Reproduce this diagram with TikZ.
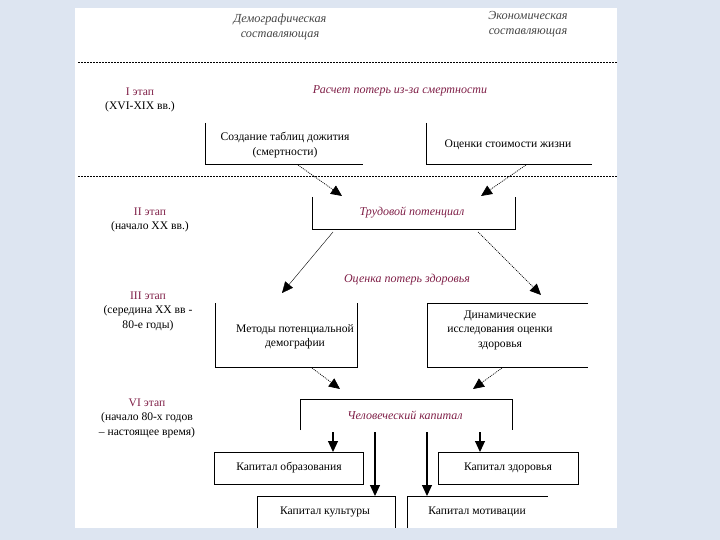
\documentclass[tikz,border=0pt]{standalone}
\usepackage{fontspec}
\setmainfont{Liberation Serif}
\usetikzlibrary{arrows.meta}
\definecolor{slide}{RGB}{221,229,241}
\definecolor{maroon}{RGB}{128,32,72}
\definecolor{headgray}{RGB}{70,70,70}

\begin{document}
\begin{tikzpicture}[x=1pt,y=-1pt,
    font=\fontsize{11.6}{14.5}\selectfont,
    tip/.style={-{Triangle[length=11pt,width=10pt]}},
    dotarrow/.style={tip,dash pattern=on 1pt off 1pt,line width=0.7pt},
    downarrow/.style={tip,line width=1.1pt},
    sepline/.style={dash pattern=on 2pt off 1pt,line width=0.8pt}]
    \fill[slide] (0,0) rectangle (720,540);
    \fill[white] (75,8) rectangle (617,528);
    \useasboundingbox (0,0) rectangle (720,540);
    \draw[sepline] (78,62) -- (617,62);
    \draw[sepline] (78,176) -- (617,176);
    \begin{scope}[every node/.style={align=center,inner sep=1pt}]
        \node[headgray,font=\fontsize{12.3}{14.5}\selectfont\itshape] (dem) at (280,27) {Демографическая\\составляющая};
        \node[headgray,font=\fontsize{12.3}{14.5}\selectfont\itshape] (eco) at (528,24) {Экономическая\\составляющая};
        \node (st1) at (140,100) {\textcolor{maroon}{I этап}\\(XVI-XIX вв.)};
        \node (st2) at (150,220) {\textcolor{maroon}{II этап}\\(начало XX вв.)};
        \node (st3) at (148,311) {\textcolor{maroon}{III этап}\\(середина XX вв -\\80-е годы)};
        \node (st4) at (147,418) {\textcolor{maroon}{VI этап}\\(начало 80-х годов\\– настоящее время)};
    \end{scope}
    \begin{scope}[every node/.style={maroon,font=\fontsize{12}{14.5}\selectfont\itshape,inner sep=1pt}]
        \node (loss) at (400,91) {Расчет потерь из-за смертности};
        \node (labour) at (412,213) {Трудовой потенциал};
        \node (hloss) at (407,280) {Оценка потерь здоровья};
        \node (human) at (405,415) {Человеческий капитал};
    \end{scope}
    \begin{scope}[every node/.style={align=center,inner sep=1pt}]
        \node (tables) at (285,145) {Создание таблиц дожития\\(смертности)};
        \node (cost) at (508,145) {Оценки стоимости жизни};
        \node (methods) at (295,337) {Методы потенциальной\\демографии};
        \node (dynamic) at (500,330) {Динамические\\исследования оценки\\здоровья};
        \node (edu) at (289,468) {Капитал образования};
        \node (hcap) at (508,468) {Капитал здоровья};
        \node (cult) at (325,512) {Капитал культуры};
        \node (motiv) at (477,512) {Капитал мотивации};
    \end{scope}
    % open frames of the blocks
    \draw (205,123) -- (205,164) -- (363,164);
    \draw (426,123) -- (426,164) -- (592,164);
    \draw (312,197) -- (312,229) -- (515,229) -- (515,197);
    \draw (215,303) -- (215,367) -- (357,367) -- (357,303);
    \draw (588,303) -- (427,303) -- (427,367) -- (588,367);
    \draw (300,430) -- (300,399) -- (512,399) -- (512,430);
    \draw (214,452) rectangle (363,484);
    \draw (438,452) rectangle (578,484);
    \draw (257,528) -- (257,496) -- (395,496) -- (395,528);
    \draw (407,528) -- (407,496) -- (548,496);
    % arrow ends
    \coordinate (tabOut) at (298,165);
    \coordinate (costOut) at (526,165);
    \coordinate (labInL) at (342,196);
    \coordinate (labInR) at (481,196);
    \coordinate (labOutL) at (333,232);
    \coordinate (labOutR) at (478,232);
    \coordinate (metIn) at (282,293);
    \coordinate (dynIn) at (541,295);
    \coordinate (metOut) at (312,368);
    \coordinate (dynOut) at (502,368);
    \coordinate (humInL) at (340,389);
    \coordinate (humInR) at (473,389);
    \coordinate (humA) at (333,432);
    \coordinate (humB) at (375,432);
    \coordinate (humC) at (427,432);
    \coordinate (humD) at (480,432);
    \coordinate (eduIn) at (333,452);
    \coordinate (cultIn) at (375,496);
    \coordinate (motIn) at (427,496);
    \coordinate (hcapIn) at (480,452);
    \draw[dotarrow] (tabOut) -- (labInL);
    \draw[dotarrow] (costOut) -- (labInR);
    \draw[tip,thin] (labOutL) -- (metIn);
    \draw[dotarrow] (labOutR) -- (dynIn);
    \draw[dotarrow] (metOut) -- (humInL);
    \draw[dotarrow] (dynOut) -- (humInR);
    \draw[downarrow] (humA) -- (eduIn);
    \draw[downarrow] (humB) -- (cultIn);
    \draw[downarrow] (humC) -- (motIn);
    \draw[downarrow] (humD) -- (hcapIn);
\end{tikzpicture}
\end{document}
